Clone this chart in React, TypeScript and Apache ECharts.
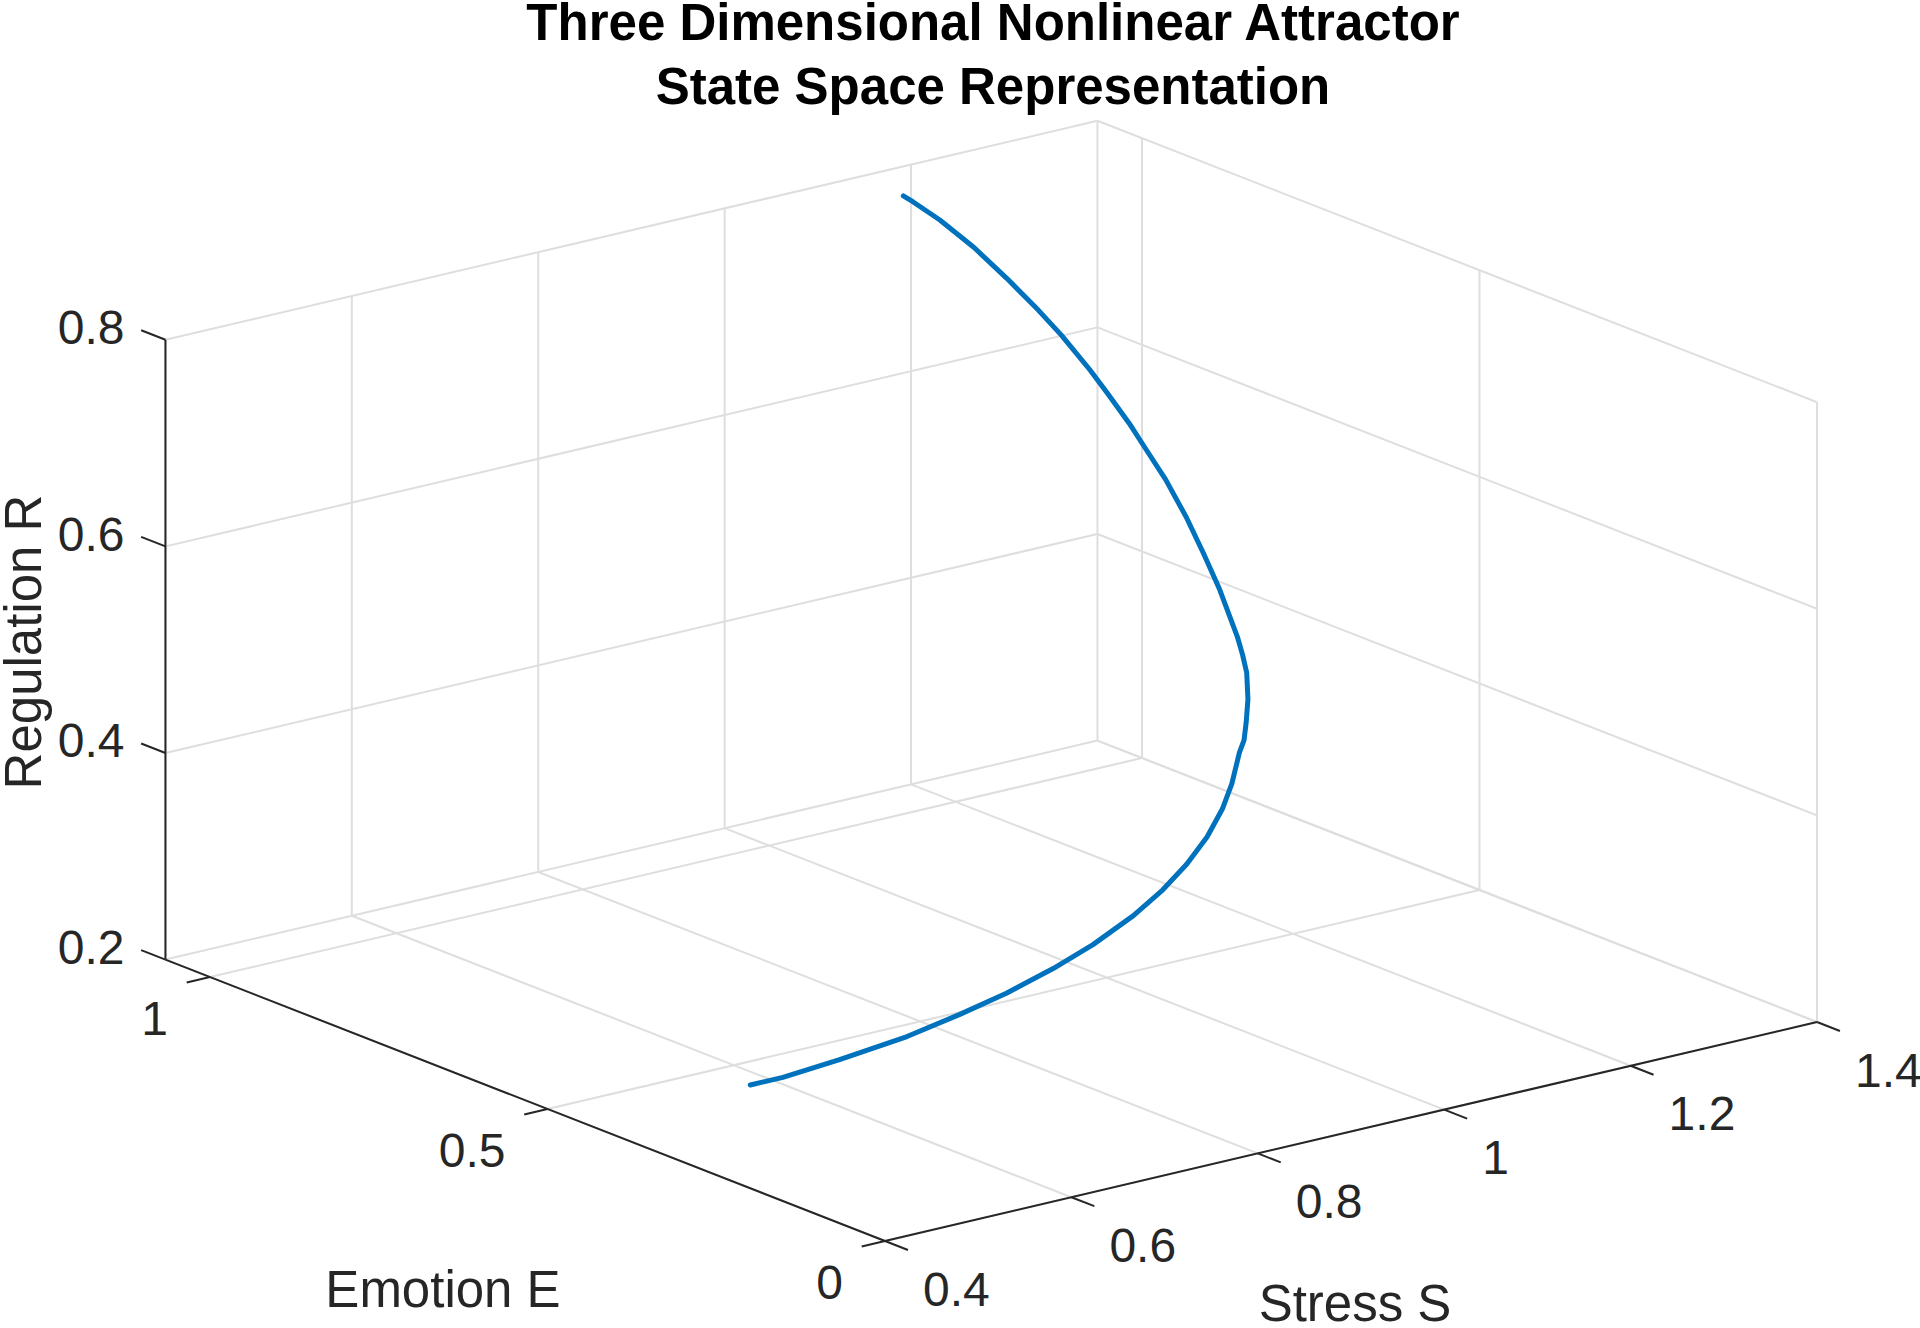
import React, { useEffect, useRef } from "react";
import * as echarts from "echarts";

// ---------------- data ----------------
const TITLE_LINES = ["Three Dimensional Nonlinear Attractor", "State Space Representation"];

const S_LIMITS = [0.4, 1.4];
const E_LIMITS = [0, 1.066];
const R_LIMITS = [0.2, 0.8];

const S_TICKS = [0.4, 0.6, 0.8, 1.0, 1.2, 1.4];
const S_TICK_LABELS = ["0.4", "0.6", "0.8", "1", "1.2", "1.4"];
const E_TICKS = [0, 0.5, 1];
const E_TICK_LABELS = ["0", "0.5", "1"];
const R_TICKS = [0.2, 0.4, 0.6, 0.8];
const R_TICK_LABELS = ["0.2", "0.4", "0.6", "0.8"];

const X_LABEL = "Stress S";
const Y_LABEL = "Emotion E";
const Z_LABEL = "Regulation R";

// trajectory (Stress S, Emotion E, Regulation R)
const STRESS_S = [
  0.577, 0.612, 0.675, 0.751, 0.812, 0.867, 0.923, 0.973, 1.025, 1.066, 1.101, 1.133,
  1.161, 1.182, 1.204, 1.214, 1.225, 1.237, 1.248, 1.253, 1.256, 1.261, 1.263, 1.263,
  1.261, 1.256, 1.252, 1.245, 1.239, 1.228, 1.218, 1.202, 1.185, 1.165, 1.148, 1.141,
];
const EMOTION_E = [
  0.444, 0.444, 0.447, 0.452, 0.458, 0.465, 0.473, 0.483, 0.495, 0.508, 0.521, 0.535,
  0.551, 0.566, 0.585, 0.592, 0.604, 0.618, 0.635, 0.648, 0.66, 0.693, 0.72, 0.745,
  0.773, 0.797, 0.815, 0.838, 0.855, 0.882, 0.902, 0.927, 0.952, 0.975, 0.991, 0.996,
];
const REGULATION_R = [
  0.2, 0.2, 0.203, 0.208, 0.215, 0.222, 0.232, 0.242, 0.256, 0.269, 0.283, 0.299,
  0.316, 0.332, 0.353, 0.361, 0.373, 0.389, 0.408, 0.421, 0.435, 0.471, 0.499, 0.527,
  0.557, 0.583, 0.603, 0.628, 0.647, 0.676, 0.697, 0.725, 0.752, 0.777, 0.794, 0.8,
];

// ---------------- view (orthographic projection, layout) ----------------
const W = 1920;
const H = 1328;
const VIEW = { ox: 885, oy: 1241, sx: 932, sy: -219, ex: -675, ey: -264, ry: -1033 };

function project(s: number, e: number, r: number): number[] {
  const ds = s - S_LIMITS[0];
  const de = e - E_LIMITS[0];
  const dr = r - R_LIMITS[0];
  return [
    VIEW.ox + VIEW.sx * ds + VIEW.ex * de,
    VIEW.oy + VIEW.sy * ds + VIEW.ey * de + VIEW.ry * dr,
  ];
}

function seg(p: number[], q: number[]): number[] {
  const a = project(p[0], p[1], p[2]);
  const b = project(q[0], q[1], q[2]);
  return [a[0], a[1], b[0], b[1]];
}

const FONT = "'Liberation Sans', Arial, Helvetica, sans-serif";
const GRID_COLOR = "#dedede";
const AXIS_COLOR = "#262626";

function buildGrid(): number[][] {
  const [s0, s1] = S_LIMITS;
  const [e0, e1] = E_LIMITS;
  const [r0, r1] = R_LIMITS;
  const out: number[][] = [];
  // floor
  S_TICKS.forEach((s) => out.push(seg([s, e0, r0], [s, e1, r0])));
  E_TICKS.forEach((e) => out.push(seg([s0, e, r0], [s1, e, r0])));
  // back wall E = max
  S_TICKS.forEach((s) => out.push(seg([s, e1, r0], [s, e1, r1])));
  R_TICKS.forEach((r) => out.push(seg([s0, e1, r], [s1, e1, r])));
  // back wall S = max
  E_TICKS.forEach((e) => out.push(seg([s1, e, r0], [s1, e, r1])));
  R_TICKS.forEach((r) => out.push(seg([s1, e0, r], [s1, e1, r])));
  return out;
}

function buildAxes(): number[][] {
  const [s0, s1] = S_LIMITS;
  const [e0, e1] = E_LIMITS;
  const [r0, r1] = R_LIMITS;
  const out: number[][] = [];
  out.push(seg([s0, e1, r0], [s0, e1, r1]));
  out.push(seg([s0, e0, r0], [s0, e1, r0]));
  out.push(seg([s0, e0, r0], [s1, e0, r0]));
  // tick marks
  R_TICKS.forEach((r) => out.push(seg([s0, e1, r], [s0, e1 + 0.036, r])));
  E_TICKS.forEach((e) => out.push(seg([s0, e, r0], [s0 - 0.025, e, r0])));
  S_TICKS.forEach((s) => out.push(seg([s, e0, r0], [s, e0 - 0.034, r0])));
  return out;
}

function lineRenderer(color: string, width: number) {
  return (_params: any, api: any) => {
    const a = api.coord([api.value(0), api.value(1)]);
    const b = api.coord([api.value(2), api.value(3)]);
    return {
      type: "line",
      shape: { x1: a[0], y1: a[1], x2: b[0], y2: b[1] },
      style: { stroke: color, lineWidth: width, fill: null },
      silent: true,
    };
  };
}

function textEl(text: string, x: number, y: number, opts: any) {
  return {
    type: "text",
    x,
    y,
    rotation: opts.rotation || 0,
    silent: true,
    style: {
      text,
      fill: opts.color || AXIS_COLOR,
      fontSize: opts.fontSize,
      fontWeight: opts.fontWeight || "normal",
      fontFamily: FONT,
      align: opts.align || "center",
      verticalAlign: opts.verticalAlign || "middle",
      textAlign: opts.align || "center",
      textVerticalAlign: opts.verticalAlign || "middle",
    },
  };
}

function buildTexts(): any[] {
  const els: any[] = [];
  const [s0] = S_LIMITS;
  const [e0, e1] = E_LIMITS;
  const [r0] = R_LIMITS;
  R_TICKS.forEach((r, i) => {
    const p = project(s0, e1, r);
    els.push(textEl(R_TICK_LABELS[i], p[0] - 41, p[1] - 12, { fontSize: 48, align: "right" }));
  });
  E_TICKS.forEach((e, i) => {
    const p = project(s0, e, r0);
    els.push(textEl(E_TICK_LABELS[i], p[0] - 42, p[1] + 41, { fontSize: 48, align: "right" }));
  });
  S_TICKS.forEach((s, i) => {
    const p = project(s, e0, r0);
    els.push(textEl(S_TICK_LABELS[i], p[0] + 38, p[1] + 48, { fontSize: 48, align: "left" }));
  });
  els.push(textEl(Z_LABEL, 23, 642, { fontSize: 51, rotation: Math.PI / 2 }));
  els.push(textEl(Y_LABEL, 443, 1289, { fontSize: 51 }));
  els.push(textEl(X_LABEL, 1355, 1303, { fontSize: 51 }));
  els.push(textEl(TITLE_LINES[0], 993, 22, { fontSize: 51, fontWeight: "bold", color: "#000" }));
  els.push(textEl(TITLE_LINES[1], 993, 86, { fontSize: 51, fontWeight: "bold", color: "#000" }));
  return els;
}

export default function App() {
  const ref = useRef<HTMLDivElement>(null);

  useEffect(() => {
    document.body.style.margin = "0";
    document.body.style.overflow = "hidden";
    if (!ref.current) return;
    const chart = echarts.init(ref.current, undefined, { renderer: "svg" });

    const curve = STRESS_S.map((s, i) => project(s, EMOTION_E[i], REGULATION_R[i]));

    chart.setOption({
      animation: false,
      backgroundColor: "#ffffff",
      grid: { left: 0, right: 0, top: 0, bottom: 0, containLabel: false },
      xAxis: { type: "value", min: 0, max: W, show: false },
      yAxis: { type: "value", min: 0, max: H, inverse: true, show: false },
      series: [
        {
          type: "custom",
          name: "grid",
          renderItem: lineRenderer(GRID_COLOR, 2),
          data: buildGrid(),
          clip: false,
          silent: true,
          z: 1,
        },
        {
          type: "custom",
          name: "axes",
          renderItem: lineRenderer(AXIS_COLOR, 2),
          data: buildAxes(),
          clip: false,
          silent: true,
          z: 2,
        },
        {
          type: "line",
          name: "trajectory",
          data: curve,
          showSymbol: false,
          smooth: false,
          clip: false,
          lineStyle: { color: "#0072BD", width: 5, cap: "round", join: "round" },
          itemStyle: { color: "#0072BD" },
          z: 3,
        },
      ],
      graphic: buildTexts(),
    });

    return () => chart.dispose();
  }, []);

  return <div ref={ref} style={{ width: W, height: H }} />;
}
